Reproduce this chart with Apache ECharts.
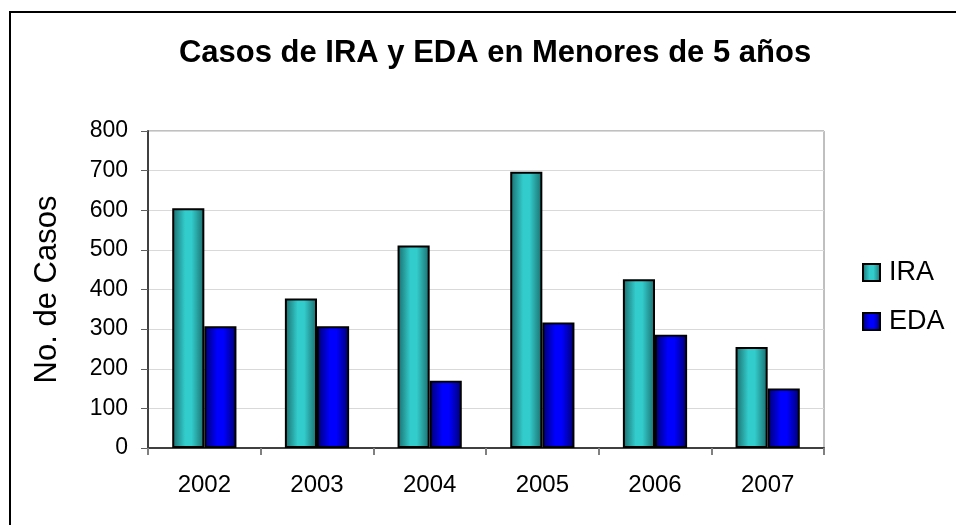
<!DOCTYPE html>
<html>
<head>
<meta charset="utf-8">
<script src="https://cdn.jsdelivr.net/npm/echarts@6/dist/echarts.min.js"></script>
<style>
  html, body { margin: 0; padding: 0; background: #fff; }
  #chart { width: 956px; height: 525px; }
</style>
</head>
<body>
<div id="chart"></div>
<script>
// data
const years = ['2002', '2003', '2004', '2005', '2006', '2007'];
const ira = [605, 377, 511, 697, 426, 255];
const eda = [307, 307, 170, 317, 286, 150];
const yTicks = [0, 100, 200, 300, 400, 500, 600, 700, 800];

const FONT = '"Liberation Sans", Arial, sans-serif';

function cyl(dark, light) {
  return new echarts.graphic.LinearGradient(0, 0, 1, 0, [
    { offset: 0, color: dark },
    { offset: 0.4, color: light },
    { offset: 0.6, color: light },
    { offset: 1, color: dark }
  ]);
}

const chart = echarts.init(document.getElementById('chart'), null, { renderer: 'canvas' });

chart.setOption({
  animation: false,
  backgroundColor: '#fff',
  title: {
    text: 'Casos de IRA y EDA en Menores de 5 años',
    left: 490,
    textAlign: 'center',
    top: 33,
    textStyle: { fontFamily: FONT, fontSize: 31, fontWeight: 'bold', color: '#000' }
  },
  legend: {
    orient: 'vertical',
    left: 857,
    top: 254,
    itemWidth: 17,
    itemHeight: 17,
    itemGap: 22,
    icon: 'rect',
    textStyle: { fontFamily: FONT, fontSize: 27, color: '#000', padding: [0, 0, 0, 4] },
    data: ['IRA', 'EDA']
  },
  graphic: [
    {
      type: 'rect',
      shape: { x: 10, y: 12, width: 960, height: 530 },
      style: { fill: 'none', stroke: '#000', lineWidth: 2 },
      silent: true
    }
  ],
  grid: { left: 148, right: 132, top: 131, bottom: 77, show: true, borderColor: '#808080', borderWidth: 1 },
  xAxis: {
    type: 'category',
    data: years,
    axisLine: { lineStyle: { color: '#404040', width: 2 } },
    axisTick: { show: true, length: 7, alignWithLabel: false, lineStyle: { color: '#808080', width: 2 } },
    axisLabel: { fontFamily: FONT, fontSize: 24, color: '#000', margin: 25 }
  },
  yAxis: {
    type: 'value',
    min: yTicks[0],
    max: yTicks[yTicks.length - 1],
    interval: 100,
    name: 'No. de Casos',
    nameLocation: 'middle',
    nameGap: 85,
    nameTextStyle: { fontFamily: FONT, fontSize: 31, color: '#000' },
    axisLine: { show: true, lineStyle: { color: '#404040', width: 2 } },
    axisTick: { show: true, length: 7, lineStyle: { color: '#606060', width: 1 } },
    axisLabel: { fontFamily: FONT, fontSize: 23, color: '#000', margin: 20 },
    splitLine: { lineStyle: { color: '#d9d9d9', width: 1 } }
  },
  series: [
    {
      name: 'IRA',
      type: 'bar',
      data: ira,
      barGap: '0%',
      barCategoryGap: '43%',
      itemStyle: { color: cyl('#1a6b6b', '#33cccc'), borderColor: '#000', borderWidth: 2 }
    },
    {
      name: 'EDA',
      type: 'bar',
      data: eda,
      itemStyle: { color: cyl('#00006e', '#0000ff'), borderColor: '#000', borderWidth: 2 }
    }
  ]
});
</script>
</body>
</html>
